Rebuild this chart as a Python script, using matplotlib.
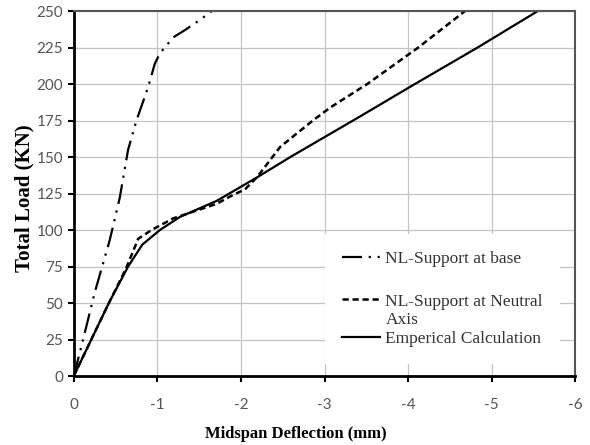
import matplotlib.pyplot as plt
from matplotlib.lines import Line2D

# Deflection (mm, negative = downward) and total load (kN)
base_defl = [0, -0.09, -0.25, -0.33, -0.43, -0.55, -0.65, -0.75, -0.89, -0.97, -1.03, -1.19, -1.33, -1.51, -1.65]
base_load = [0, 20, 57, 73, 93, 122, 155, 175, 198, 214, 221, 232, 237, 244, 250]

neutral_defl = [0, -0.21, -0.42, -0.62, -0.70, -0.77, -0.93, -1.19, -1.45, -1.71, -1.87, -2.05, -2.19, -2.47, -2.86, -3.07, -3.51, -4.12, -4.68]
neutral_load = [0, 25, 50, 73, 84, 94, 100, 108, 113, 118, 123, 128, 136, 157, 175, 184, 200, 225, 250]

emp_defl = [0, -0.21, -0.42, -0.65, -0.82, -1.03, -1.27, -1.43, -1.71, -2.19, -2.59, -3.43, -4.02, -4.83, -5.55]
emp_load = [0, 25, 50, 75, 90, 100, 109, 113, 120, 136, 150, 178, 198, 225, 250]

x_ticks = [0, -1, -2, -3, -4, -5, -6]
y_ticks = [0, 25, 50, 75, 100, 125, 150, 175, 200, 225, 250]

fig = plt.figure(figsize=(5.9, 4.45), dpi=100)
ax = fig.add_axes([0.125, 0.155, 0.85, 0.82])

l_base, = ax.plot(base_defl, base_load, color='black', lw=1.6,
                  dashes=(9, 3, 1, 3, 1, 3))
l_neut, = ax.plot(neutral_defl, neutral_load, color='black', lw=1.8,
                  dashes=(2.5, 1.5))
l_emp, = ax.plot(emp_defl, emp_load, color='black', lw=1.6)

ax.set_xlim(0, -6)
ax.set_ylim(0, 250)
ax.set_xticks(x_ticks)
ax.set_yticks(y_ticks)
ax.set_xticklabels([str(t) if t == 0 else '-' + str(-t) for t in x_ticks])
ax.grid(True, color='#c4c4c4', lw=0.9)
ax.set_axisbelow(True)

for side in ['left', 'bottom']:
    ax.spines[side].set_color('black')
    ax.spines[side].set_linewidth(2)
for side in ['top', 'right']:
    ax.spines[side].set_color('#555555')
    ax.spines[side].set_linewidth(1.5)

ax.tick_params(axis='both', direction='out', length=4, width=1.5, color='black',
               labelsize=11, labelcolor='#555555')
ax.tick_params(axis='x', pad=12)
for lbl in ax.get_xticklabels() + ax.get_yticklabels():
    lbl.set_family('Lato')

ax.set_xlabel('Midspan Deflection (mm)', family='Liberation Serif',
              fontweight='bold', fontsize=12)
ax.set_ylabel('Total Load (KN)', family='Liberation Serif',
              fontweight='bold', fontsize=15)
ax.xaxis.set_label_coords(0.443, -0.137)
ax.yaxis.set_label_coords(-0.078, 0.488)

# blank entries give the uneven spacing of the original legend
blank = Line2D([], [], color='none')
handles = [l_base, blank, l_neut, blank, l_emp]
labels = ['NL-Support at base', ' ', 'NL-Support at Neutral', 'Axis', 'Emperical Calculation']
leg = ax.legend(handles, labels, loc='upper left', bbox_to_anchor=(0.483, 0.414),
                frameon=True, facecolor='white', edgecolor='none', framealpha=1,
                prop={'family': 'Liberation Serif', 'size': 12.5},
                handlelength=2.2, handletextpad=0.3, labelspacing=0.15,
                borderpad=1.0, fancybox=False)
for t in leg.get_texts():
    t.set_color('#333333')
leg.get_texts()[1].set_fontsize(17.5)

fig.savefig('out.png', dpi=100)
